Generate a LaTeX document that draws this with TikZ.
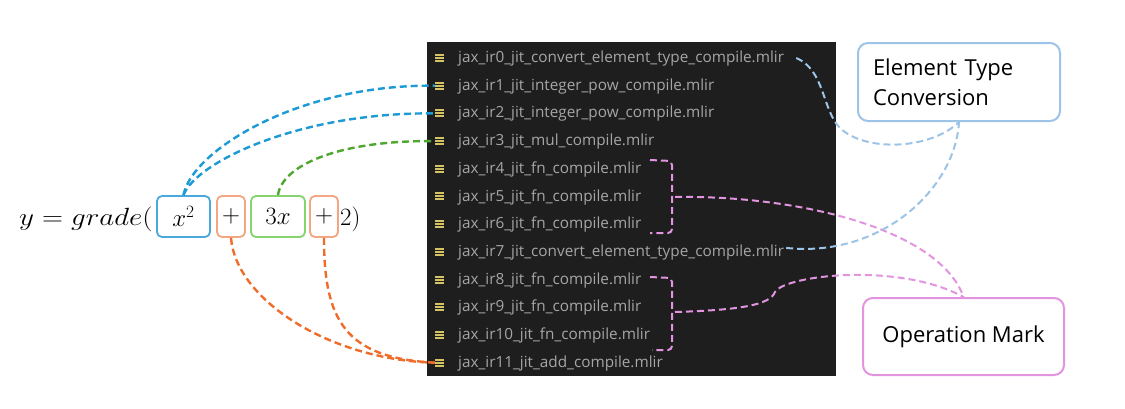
\documentclass[tikz,border=0pt]{standalone}
\usepackage{fontspec}
\setmainfont{Open Sans}
\usetikzlibrary{calc}
\definecolor{panelbg}{HTML}{1E1E1E}
\definecolor{filegrey}{HTML}{A6A6A6}
\definecolor{iconyellow}{HTML}{D4C464}
\definecolor{blueA}{HTML}{1C9AD6}
\definecolor{greenA}{HTML}{4EA72E}
\definecolor{orangeA}{HTML}{EF6C2A}
\definecolor{boxblue}{HTML}{4AA8DC}
\definecolor{boxorange}{HTML}{F4A582}
\definecolor{boxgreen}{HTML}{85D46E}
\definecolor{lightblue}{HTML}{9DC3E6}
\definecolor{pinkA}{HTML}{E394E0}
\begin{document}
\begin{tikzpicture}[x=1pt,y=-1pt,
  filetext/.style={anchor=base west, inner sep=0pt, text=filegrey, font=\fontsize{15.3}{17}\selectfont},
  icon/.style={minimum width=8pt, minimum height=8pt, inner sep=0pt},
  termbox/.style={draw, line width=1.8pt, rounded corners=5pt, minimum height=41pt, inner sep=0pt, font=\fontsize{26}{30}\selectfont},
  eqtext/.style={inner sep=0pt, font=\fontsize{26}{30}\selectfont},
  labelbox/.style={draw, line width=2pt, rounded corners=10pt, font=\fontsize{22}{30}\selectfont, fill=white},
  conn/.style={dashed, dash pattern=on 7pt off 4pt, line width=2.4pt},
  lconn/.style={dashed, dash pattern=on 7pt off 4pt, line width=2pt},
]
\useasboundingbox (0,0) rectangle (1125,408);
\fill[white] (0,0) rectangle (1125,408);

% panel
\fill[panelbg] (427,42) rectangle (836,376);

% file list
\foreach \i/\t in {0/jax\_ir0\_jit\_convert\_element\_type\_compile.mlir,
                   1/jax\_ir1\_jit\_integer\_pow\_compile.mlir,
                   2/jax\_ir2\_jit\_integer\_pow\_compile.mlir,
                   3/jax\_ir3\_jit\_mul\_compile.mlir,
                   4/jax\_ir4\_jit\_fn\_compile.mlir,
                   5/jax\_ir5\_jit\_fn\_compile.mlir,
                   6/jax\_ir6\_jit\_fn\_compile.mlir,
                   7/jax\_ir7\_jit\_convert\_element\_type\_compile.mlir,
                   8/jax\_ir8\_jit\_fn\_compile.mlir,
                   9/jax\_ir9\_jit\_fn\_compile.mlir,
                   10/jax\_ir10\_jit\_fn\_compile.mlir,
                   11/jax\_ir11\_jit\_add\_compile.mlir} {
  \pgfmathsetmacro\by{62.5+27.7*\i}
  \node[filetext] (f\i) at (458,\by) {\t};
  \node[icon] (k\i) at (439,\by-4.5) {};
  \fill[iconyellow] (435,\by-8.6) rectangle ++(8.5,2);
  \fill[iconyellow] (435,\by-5.6) rectangle ++(8.5,2);
  \fill[iconyellow] (435,\by-2.6) rectangle ++(8.5,2);
}

% equation
\node[eqtext, anchor=base east, xscale=1.17] (eq) at (153,225) {$y = grade($};
\node[termbox, draw=boxblue, minimum width=53pt] (x2) at (183.5,216.5) {$x^2$};
\node[termbox, draw=boxorange, minimum width=28pt] (p1) at (231,216.5) {$+$};
\node[termbox, draw=boxgreen, minimum width=54pt] (tx) at (278,216.5) {$3x$};
\node[termbox, draw=boxorange, minimum width=28pt] (p2) at (324,216.5) {$+$};
\node[eqtext, anchor=base west] (two) at (340,225) {$2)$};

% label boxes
\node[labelbox, draw=lightblue, minimum width=202pt, minimum height=78pt, text width=172pt, align=left, inner sep=15pt] (etc) at (959,82) {Element Type\\Conversion};
\node[labelbox, draw=pinkA, minimum width=201pt, minimum height=77pt, align=center] (opm) at (963.5,336.5) {Operation Mark};

% connectors from equation
\draw[conn, blueA] (x2.north) .. controls (192,150) and (300,84) .. (k1.west);
\draw[conn, blueA] (x2.north) .. controls (196,162) and (300,112) .. (k2.west);
\draw[conn, greenA] (tx.north) .. controls (282,165) and (340,140) .. (k3.west);
\draw[conn, orangeA] (p1.south) .. controls (236,300) and (330,360) .. (k11.west);
\draw[conn, orangeA] (p2.south) .. controls (324,320) and (345,358) .. (k11.west);

% pink brackets
\coordinate (b1) at (675,197);
\coordinate (b2) at (675,312);
\coordinate (t4) at (650,160);
\coordinate (t6) at (650,233);
\coordinate (t8) at (650,277);
\coordinate (t10) at (652,350);
\draw[lconn, pinkA, rounded corners=4pt] (t4) -- (672,161) -- (672,233) -- (t6);
\draw[lconn, pinkA, rounded corners=4pt] (t8) -- (672,278) -- (672,350) -- (t10);
\draw[lconn, pinkA] (b1) .. controls (800,195) and (940,230) .. (opm.north);
\draw[lconn, pinkA] (b2) .. controls (740,310) and (770,305) .. (775,292) .. controls (785,275) and (900,262) .. (opm.north);

% light blue connectors
\draw[lconn, lightblue] ($(f0.east)+(12,-0.5)$) .. controls (825,70) and (822,110) .. (840,128) .. controls (865,152) and (930,150) .. (etc.south);
\draw[lconn, lightblue] ($(f7.east)+(2,-4.5)$) .. controls (880,258) and (955,190) .. (etc.south);
\end{tikzpicture}
\end{document}
